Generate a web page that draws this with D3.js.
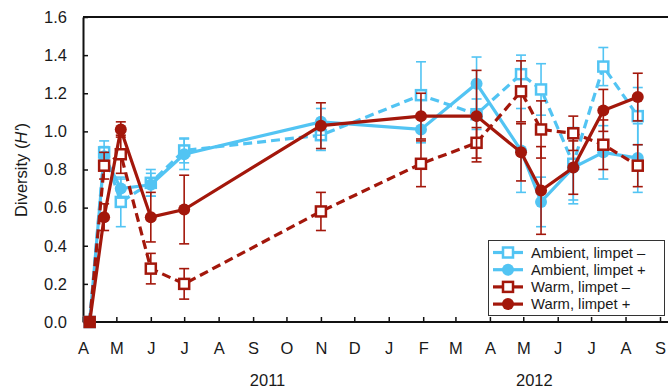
<!DOCTYPE html>
<html>
<head>
<meta charset="utf-8">
<script src="https://cdn.jsdelivr.net/npm/d3@7"></script>
<style>
  html, body { margin: 0; padding: 0; background: #fff; }
  svg { display: block; }
  text { font-family: "Liberation Sans", Arial, sans-serif; fill: #1a1a1a; }
</style>
</head>
<body>
<svg id="chart" width="668" height="389"></svg>
<script>
// ---- Data ----
const sampleDates = ["2011-04-07","2011-04-20","2011-05-05","2011-06-01","2011-07-01","2011-11-01","2012-01-30","2012-03-20","2012-04-29","2012-05-17","2012-06-15","2012-07-12","2012-08-12"];

const ambientMinus    = [0, 0.89, 0.63, 0.73, 0.90, 0.98, 1.19, 1.09, 1.30, 1.22, 0.83, 1.34, 1.08];
const ambientMinusSE  = [0, 0.06, 0.13, 0.07, 0.065, 0.08, 0.175, 0.08, 0.10, 0.135, 0.19, 0.10, 0.15];
const ambientPlus     = [0, 0.87, 0.70, 0.72, 0.88, 1.05, 1.01, 1.25, 0.90, 0.63, 0.81, 0.89, 0.86];
const ambientPlusSE   = [0, 0.05, 0.05, 0.06, 0.08, 0.07, 0.07, 0.14, 0.22, 0.13, 0.19, 0.14, 0.18];
const warmMinus       = [0, 0.82, 0.88, 0.28, 0.20, 0.58, 0.83, 0.94, 1.21, 1.01, 0.99, 0.93, 0.82];
const warmMinusSE     = [0, 0.07, 0.10, 0.08, 0.08, 0.10, 0.12, 0.08, 0.16, 0.15, 0.09, 0.13, 0.11];
const warmPlus        = [0, 0.55, 1.01, 0.55, 0.59, 1.03, 1.08, 1.08, 0.89, 0.69, 0.81, 1.11, 1.18];
const warmPlusSE      = [0, 0.07, 0.04, 0.13, 0.18, 0.12, 0.12, 0.24, 0.15, 0.23, 0.14, 0.11, 0.125];

const seriesNames = ["Ambient, limpet \u2013", "Ambient, limpet +", "Warm, limpet \u2013", "Warm, limpet +"];
const yTicks = [0, 0.2, 0.4, 0.6, 0.8, 1.0, 1.2, 1.4, 1.6];
const yearLabels = [{label: "2011", date: "2011-09-14"}, {label: "2012", date: "2012-05-11"}];
const axisStart = "2011-04-01", axisEnd = "2012-09-01";

// ---- Styles ----
const BLUE = "#52c4f3", RED = "#a3170b";
const series = [
  {name: seriesNames[0], values: ambientMinus, se: ambientMinusSE, color: BLUE, dashed: true,  marker: "square"},
  {name: seriesNames[1], values: ambientPlus,  se: ambientPlusSE,  color: BLUE, dashed: false, marker: "circle"},
  {name: seriesNames[2], values: warmMinus,    se: warmMinusSE,    color: RED,  dashed: true,  marker: "square"},
  {name: seriesNames[3], values: warmPlus,     se: warmPlusSE,     color: RED,  dashed: false, marker: "circle"}
];

const parse = d3.timeParse("%Y-%m-%d");
const dates = sampleDates.map(parse);

const svg = d3.select("#chart");
const mLeft = 83, mRight = 660, mTop = 17, mBottom = 322;

const x = d3.scaleTime().domain([parse(axisStart), parse(axisEnd)]).range([mLeft, mRight]);
const y = d3.scaleLinear().domain([0, 1.6]).range([mBottom, mTop]);

// frame top line
svg.append("line").attr("x1", mLeft).attr("x2", 668).attr("y1", mTop).attr("y2", mTop)
  .attr("stroke", "#111").attr("stroke-width", 2);

// y axis
const yAxis = svg.append("g").attr("transform", `translate(${mLeft},0)`)
  .call(d3.axisLeft(y).tickValues(yTicks).tickFormat(d3.format(".1f"))
    .tickSizeInner(-5).tickSizeOuter(0).tickPadding(16));
yAxis.select(".domain").attr("stroke", "#111").attr("stroke-width", 2);
yAxis.selectAll(".tick line").attr("stroke", "#111").attr("stroke-width", 1.5);
yAxis.selectAll("text").attr("font-size", "16.5px").attr("font-family", "Liberation Sans, Arial, sans-serif").attr("fill", "#1a1a1a");

// x axis
const monthTicks = d3.timeMonth.range(parse(axisStart), d3.timeDay.offset(parse(axisEnd), 1));
const xAxis = svg.append("g").attr("transform", `translate(0,${mBottom})`)
  .call(d3.axisBottom(x).tickValues(monthTicks).tickFormat(d => d3.timeFormat("%b")(d)[0])
    .tickSizeInner(-5).tickSizeOuter(0).tickPadding(20));
xAxis.select(".domain").attr("stroke", "#111").attr("stroke-width", 2).attr("d", `M${mLeft},0H668`);
xAxis.selectAll(".tick line").attr("stroke", "#111").attr("stroke-width", 1.5);
xAxis.selectAll("text").attr("font-size", "16.5px").attr("font-family", "Liberation Sans, Arial, sans-serif").attr("fill", "#1a1a1a");

// year labels
svg.selectAll("text.year").data(yearLabels).enter().append("text").attr("class", "year")
  .attr("x", d => x(parse(d.date))).attr("y", 386).attr("text-anchor", "middle")
  .attr("font-size", "16.5px").text(d => d.label);

// y title
const yt = svg.append("text").attr("transform", "translate(27,170) rotate(-90)")
  .attr("text-anchor", "middle").attr("font-size", "16.5px");
yt.append("tspan").text("Diversity (");
yt.append("tspan").attr("font-style", "italic").text("H'");
yt.append("tspan").text(")");

// series
const line = d3.line().x((d, i) => x(dates[i])).y(d => y(d));
function drawMarker(g, type, color, cx, cy) {
  if (type === "circle") {
    g.append("circle").attr("cx", cx).attr("cy", cy).attr("r", 6).attr("fill", color);
  } else {
    g.append("rect").attr("x", cx - 5).attr("y", cy - 5).attr("width", 10).attr("height", 10)
      .attr("fill", "#fff").attr("stroke", color).attr("stroke-width", 2.5);
  }
}

series.forEach(s => {
  const g = svg.append("g");
  g.append("path").datum(s.values).attr("d", line).attr("fill", "none")
    .attr("stroke", s.color).attr("stroke-width", 3.2)
    .attr("stroke-dasharray", s.dashed ? "9,5" : null);
  s.values.forEach((v, i) => {
    if (!s.se[i]) return;
    const cx = x(dates[i]), y1 = y(v - s.se[i]), y2 = y(v + s.se[i]);
    g.append("line").attr("x1", cx).attr("x2", cx).attr("y1", y1).attr("y2", y2)
      .attr("stroke", s.color).attr("stroke-width", 1.6);
    [y1, y2].forEach(yy => g.append("line").attr("x1", cx - 5).attr("x2", cx + 5)
      .attr("y1", yy).attr("y2", yy).attr("stroke", s.color).attr("stroke-width", 1.6));
  });
  s.values.forEach((v, i) => drawMarker(g, s.marker, s.color, x(dates[i]), y(v)));
});

// legend
const lg = svg.append("g");
lg.append("rect").attr("x", 488.5).attr("y", 240.5).attr("width", 176).attr("height", 75)
  .attr("fill", "#fff").attr("stroke", "#333").attr("stroke-width", 1);
series.forEach((s, i) => {
  const cy = 252.5 + i * 17.2;
  lg.append("line").attr("x1", 493).attr("x2", 523).attr("y1", cy).attr("y2", cy)
    .attr("stroke", s.color).attr("stroke-width", 3.2);
  drawMarker(lg, s.marker, s.color, 508, cy);
  lg.append("text").attr("x", 531).attr("y", cy).attr("dy", "0.36em")
    .attr("font-size", "14.8px").text(s.name);
});
</script>
</body>
</html>
